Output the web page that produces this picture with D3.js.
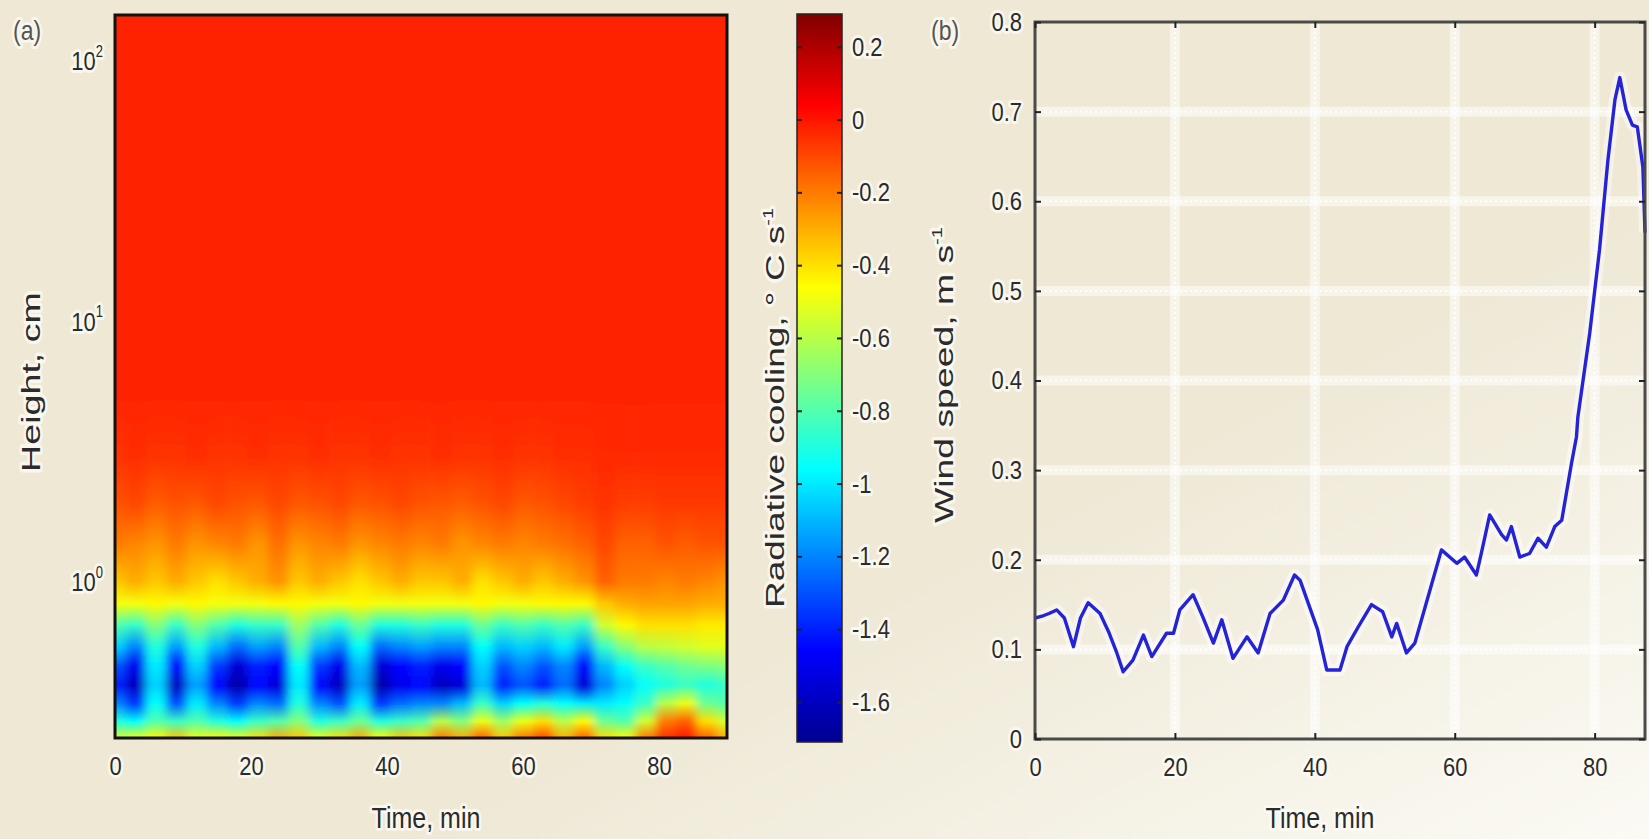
<!DOCTYPE html>
<html>
<head>
<meta charset="utf-8">
<script src="https://cdn.jsdelivr.net/npm/d3@7"></script>
<style>
  body { margin: 0; background: #eee8d5; }
  svg { display: block; font-family: "Liberation Sans", Arial, sans-serif; }
</style>
</head>
<body>
<svg id="fig" width="1649" height="839"></svg>
<script>
// ---- panel (a): radiative cooling (deg C / s) ----
var hmTimes = [0,3,6,9,12,15,18,21,24,27,30,33,36,39,42,45,48,51,54,57,60,63,66,69,72,75,78,81,84,87,90];
var hmHeights = [0.25,0.29,0.34,0.40,0.47,0.56,0.68,0.82,1.0,1.4,2.0,3.0,5.0];

var cool_h025 = [-0.55,-0.5,-0.45,-0.35,-0.5,-0.45,-0.5,-0.4,-0.3,-0.35,-0.5,-0.4,-0.3,-0.45,-0.35,-0.4,-0.2,-0.3,-0.15,-0.35,-0.2,-0.1,-0.3,-0.15,-0.4,-0.45,-0.2,-0.05,0.0,-0.15,-0.3];
var cool_h029 = [-0.9,-0.95,-0.8,-0.85,-0.8,-0.9,-0.95,-0.85,-0.8,-0.7,-0.9,-0.85,-0.75,-0.9,-0.85,-0.8,-0.6,-0.7,-0.5,-0.65,-0.5,-0.4,-0.6,-0.45,-0.75,-0.8,-0.55,-0.2,-0.15,-0.4,-0.55];
var cool_h034 = [-1.2,-1.35,-0.95,-1.3,-1.0,-1.2,-1.35,-1.2,-1.25,-0.9,-1.2,-1.3,-1.0,-1.35,-1.25,-1.2,-1.2,-1.1,-0.85,-1.05,-0.95,-0.9,-0.95,-1.0,-1.0,-0.95,-0.85,-0.6,-0.5,-0.75,-0.8];
var cool_h040 = [-1.4,-1.6,-1.05,-1.6,-1.15,-1.45,-1.65,-1.45,-1.55,-1.0,-1.45,-1.6,-1.15,-1.65,-1.5,-1.45,-1.6,-1.55,-1.1,-1.4,-1.3,-1.4,-1.25,-1.55,-1.2,-1.05,-0.95,-0.9,-0.85,-0.9,-0.85];
var cool_h047 = [-1.3,-1.5,-1.0,-1.45,-1.05,-1.35,-1.55,-1.4,-1.45,-0.95,-1.35,-1.5,-1.1,-1.55,-1.45,-1.4,-1.5,-1.45,-1.05,-1.3,-1.2,-1.3,-1.2,-1.45,-1.1,-0.95,-0.85,-0.8,-0.75,-0.72,-0.7];
var cool_h056 = [-1.05,-1.2,-0.9,-1.15,-0.9,-1.1,-1.25,-1.15,-1.2,-0.8,-1.1,-1.2,-0.95,-1.25,-1.2,-1.15,-1.2,-1.2,-0.95,-1.1,-1.05,-1.1,-1.0,-1.15,-0.85,-0.7,-0.6,-0.58,-0.55,-0.52,-0.52];
var cool_h068 = [-0.8,-0.85,-0.7,-0.85,-0.7,-0.8,-0.9,-0.85,-0.85,-0.65,-0.8,-0.9,-0.75,-0.9,-0.9,-0.85,-0.9,-0.9,-0.75,-0.85,-0.8,-0.85,-0.8,-0.85,-0.55,-0.45,-0.4,-0.4,-0.4,-0.42,-0.42];
var cool_h082 = [-0.48,-0.48,-0.45,-0.48,-0.45,-0.48,-0.48,-0.48,-0.45,-0.45,-0.48,-0.48,-0.45,-0.48,-0.48,-0.48,-0.48,-0.48,-0.45,-0.48,-0.48,-0.45,-0.45,-0.45,-0.35,-0.3,-0.28,-0.28,-0.28,-0.3,-0.3];
var cool_h100 = [-0.35,-0.3,-0.35,-0.3,-0.35,-0.4,-0.35,-0.3,-0.25,-0.35,-0.3,-0.35,-0.4,-0.35,-0.3,-0.35,-0.35,-0.3,-0.4,-0.35,-0.3,-0.35,-0.3,-0.25,-0.15,-0.2,-0.2,-0.22,-0.2,-0.22,-0.25];
var cool_h140 = [-0.2,-0.22,-0.25,-0.2,-0.25,-0.22,-0.2,-0.25,-0.18,-0.25,-0.22,-0.2,-0.25,-0.22,-0.2,-0.22,-0.2,-0.25,-0.22,-0.2,-0.22,-0.2,-0.18,-0.15,-0.1,-0.15,-0.15,-0.12,-0.14,-0.12,-0.12];
var cool_h200 = [-0.12,-0.1,-0.14,-0.12,-0.13,-0.1,-0.12,-0.13,-0.1,-0.13,-0.12,-0.1,-0.13,-0.12,-0.1,-0.12,-0.13,-0.14,-0.12,-0.1,-0.13,-0.12,-0.1,-0.08,-0.06,-0.08,-0.08,-0.07,-0.07,-0.07,-0.07];
var cool_h300 = [-0.06,-0.05,-0.06,-0.06,-0.05,-0.06,-0.06,-0.05,-0.06,-0.06,-0.05,-0.06,-0.06,-0.05,-0.06,-0.06,-0.05,-0.06,-0.06,-0.05,-0.06,-0.06,-0.05,-0.05,-0.04,-0.04,-0.04,-0.04,-0.04,-0.04,-0.04];
var cool_h500 = [-0.03,-0.03,-0.03,-0.03,-0.03,-0.03,-0.03,-0.03,-0.03,-0.03,-0.03,-0.03,-0.03,-0.03,-0.03,-0.03,-0.03,-0.03,-0.03,-0.03,-0.03,-0.03,-0.03,-0.03,-0.03,-0.03,-0.03,-0.03,-0.03,-0.03,-0.03];

var coolMin = -1.71, coolMax = 0.29;

// ---- panel (b): wind speed (m/s) ----
var windTime  = [0,1,2,3.1,4.2,5.5,6.5,7.6,9.3,10.5,11.7,12.6,14,15.5,16.7,18.8,19.8,20.7,22.6,24,25.5,26.7,28.3,30.3,31.9,33.6,35.5,37.1,37.9,40.4,41.7,43.6,44.6,46.2,48.1,49.7,51,51.7,53.1,54.3,56.2,58.1,60.3,61.4,63.1,63.8,65,66.7,67.4,68.1,69.3,70.7,71.9,73.1,74.3,75.3,76.7,77.4,77.6,79.3,80.7,81.9,82.9,83.6,84.5,85.4,86.1,86.9,87.2];
var windSpeed = [0.135,0.137,0.140,0.144,0.135,0.103,0.135,0.152,0.14,0.12,0.096,0.075,0.088,0.116,0.092,0.118,0.118,0.144,0.161,0.136,0.107,0.133,0.090,0.114,0.096,0.14,0.155,0.183,0.177,0.122,0.077,0.077,0.103,0.125,0.15,0.142,0.114,0.129,0.096,0.107,0.159,0.211,0.196,0.203,0.183,0.207,0.25,0.228,0.222,0.237,0.203,0.207,0.224,0.214,0.237,0.244,0.308,0.337,0.359,0.453,0.546,0.646,0.713,0.738,0.702,0.685,0.683,0.638,0.565];

var timeTicks = [0,20,40,60,80];
var heightTicks = [1,10,100];
var heightExp = ["0","1","2"];
var coolTicks = [0.2,0,-0.2,-0.4,-0.6,-0.8,-1,-1.2,-1.4,-1.6];
var windTicks = [0,0.1,0.2,0.3,0.4,0.5,0.6,0.7,0.8];

var svg = d3.select("#fig");
var defs = svg.append("defs");

var bg = defs.append("linearGradient").attr("id", "bg")
    .attr("x1", 0).attr("y1", 0).attr("x2", 1).attr("y2", 1);
bg.append("stop").attr("offset", 0.62).attr("stop-color", "#eee8d5");
bg.append("stop").attr("offset", 1).attr("stop-color", "#fbfaf4");
svg.append("rect").attr("width", 1649).attr("height", 839).attr("fill", "url(#bg)");

function halo(sel) {
    sel.attr("stroke", "#fdfcf6").attr("stroke-width", 5).attr("stroke-opacity", 0.75)
       .attr("stroke-linejoin", "round").attr("paint-order", "stroke");
}

// jet colormap
var jetPos = [0, 0.125, 0.375, 0.625, 0.875, 1];
var jet = d3.scaleLinear()
    .domain(jetPos.map(function(p){ return coolMin + p*(coolMax-coolMin); }))
    .range(["#000090","#0000ff","#00ffff","#ffff00","#ff0000","#800000"])
    .clamp(true);

// ================= panel (a) =================
var aL = 115, aR = 727, aT = 15, aB = 738;
var xA = d3.scaleLinear().domain([0, 90]).range([aL, aR]);
var yA = d3.scaleLog().domain([0.25, 150]).range([aB, aT]);

defs.append("clipPath").attr("id", "clipA").append("rect")
    .attr("x", aL).attr("y", aT).attr("width", aR-aL).attr("height", aB-aT);
var soft = defs.append("filter").attr("id", "soft").attr("filterUnits", "userSpaceOnUse")
    .attr("x", 40).attr("y", -60).attr("width", 760).attr("height", 880);
soft.append("feGaussianBlur").attr("stdDeviation", "5 1");

var hmRows = [cool_h025,cool_h029,cool_h034,cool_h040,cool_h047,cool_h056,cool_h068,cool_h082,cool_h100,cool_h140,cool_h200,cool_h300,cool_h500];
var nT = hmTimes.length;

// one vertical colour profile per time column, stops at the data heights
var yBot = yA(hmHeights[0]), yTop = yA(hmHeights[hmHeights.length-1]);
hmTimes.forEach(function(t, j) {
    var g = defs.append("linearGradient").attr("id", "col" + j)
        .attr("gradientUnits", "userSpaceOnUse")
        .attr("x1", 0).attr("x2", 0).attr("y1", yBot).attr("y2", yTop);
    hmHeights.forEach(function(h, i) {
        g.append("stop").attr("offset", (yBot - yA(h)) / (yBot - yTop))
            .attr("stop-color", jet(hmRows[i][j]));
    });
});
function colEdge(j, side) {
    if (side < 0) return j === 0 ? hmTimes[0] - 8 : (hmTimes[j-1] + hmTimes[j]) / 2;
    return j === nT-1 ? hmTimes[j] + 8 : (hmTimes[j] + hmTimes[j+1]) / 2;
}

var hm = svg.append("g").attr("clip-path", "url(#clipA)")
    .append("g").attr("filter", "url(#soft)");
hm.selectAll("rect").data(hmTimes).enter().append("rect")
    .attr("x", function(d, j){ return xA(colEdge(j, -1)); })
    .attr("width", function(d, j){ return xA(colEdge(j, 1)) - xA(colEdge(j, -1)) + 0.6; })
    .attr("y", aT - 20)
    .attr("height", aB - aT + 40)
    .attr("fill", function(d, j){ return "url(#col" + j + ")"; });

svg.append("rect").attr("x", aL).attr("y", aT).attr("width", aR-aL).attr("height", aB-aT)
    .attr("fill", "none").attr("stroke", "#151010").attr("stroke-width", 3);

var axA = svg.append("g").attr("transform", "translate(0," + aB + ")")
    .call(d3.axisBottom(xA).tickValues(timeTicks).tickSize(0).tickPadding(15).tickFormat(String));
axA.select(".domain").remove();

var yLab = svg.append("g");
heightTicks.forEach(function(v, k) {
    var t = yLab.append("text")
        .attr("transform", "translate(103," + yA(v) + ") scale(1,1.2)")
        .attr("y", 8).attr("text-anchor", "end");
    t.append("tspan").text("10");
    t.append("tspan").attr("class", "sup").attr("dy", -11).text(heightExp[k]);
});

// colorbar
var cL = 797, cR = 842, cT = 14, cB = 742;
var yC = d3.scaleLinear().domain([coolMin, coolMax]).range([cB, cT]);
var cg = defs.append("linearGradient").attr("id", "jetbar")
    .attr("x1", 0).attr("y1", 1).attr("x2", 0).attr("y2", 0);
jetPos.forEach(function(p) {
    cg.append("stop").attr("offset", p).attr("stop-color", jet(coolMin + p*(coolMax-coolMin)));
});
svg.append("rect").attr("x", cL).attr("y", cT).attr("width", cR-cL).attr("height", cB-cT)
    .attr("fill", "url(#jetbar)").attr("stroke", "#2a2020").attr("stroke-width", 1.5);
var axC = svg.append("g").attr("transform", "translate(" + cR + ",0)")
    .call(d3.axisRight(yC).tickValues(coolTicks).tickSize(-5).tickPadding(10).tickFormat(String));
var axC2 = svg.append("g").attr("transform", "translate(" + cL + ",0)")
    .call(d3.axisLeft(yC).tickValues(coolTicks).tickSize(-5).tickFormat(""));

// ================= panel (b) =================
var bL = 1035, bR = 1645, bT = 22, bB = 739;
var xB = d3.scaleLinear().domain([0, 87.2]).range([bL, bR]);
var yB = d3.scaleLinear().domain([0, 0.8]).range([bB, bT]);

defs.append("clipPath").attr("id", "clipB").append("rect")
    .attr("x", bL).attr("y", bT - 5).attr("width", bR-bL + 3).attr("height", bB-bT + 5);

var grid = svg.append("g");
var gx = timeTicks.filter(function(v){ return v > 0; });
var gy = windTicks.filter(function(v){ return v > 0 && v < 0.8; });
[[10, 0.5, null], [2, 0.95, "2,3"]].forEach(function(st) {
    grid.selectAll(null).data(gx).enter().append("line")
        .attr("x1", xB).attr("x2", xB).attr("y1", bT).attr("y2", bB)
        .attr("stroke", "#ffffff").attr("stroke-width", st[0]).attr("stroke-opacity", st[1])
        .attr("stroke-dasharray", st[2]);
    grid.selectAll(null).data(gy).enter().append("line")
        .attr("x1", bL).attr("x2", bR).attr("y1", yB).attr("y2", yB)
        .attr("stroke", "#ffffff").attr("stroke-width", st[0]).attr("stroke-opacity", st[1])
        .attr("stroke-dasharray", st[2]);
});

var windLine = d3.line()
    .x(function(d){ return xB(d[0]); })
    .y(function(d){ return yB(d[1]); });
var windPts = d3.zip(windTime, windSpeed);
var lg = svg.append("g").attr("clip-path", "url(#clipB)");
lg.append("path").datum(windPts).attr("d", windLine)
    .attr("fill", "none").attr("stroke", "#ffffff").attr("stroke-width", 12)
    .attr("stroke-opacity", 0.45).attr("stroke-linejoin", "round");
lg.append("path").datum(windPts).attr("d", windLine)
    .attr("fill", "none").attr("stroke", "#2424d6").attr("stroke-width", 3.4)
    .attr("stroke-linejoin", "round");

svg.append("rect").attr("x", bL).attr("y", bT).attr("width", bR-bL).attr("height", bB-bT)
    .attr("fill", "none").attr("stroke", "#4a4a4a").attr("stroke-width", 3);

var axBx = svg.append("g").attr("transform", "translate(0," + bB + ")")
    .call(d3.axisBottom(xB).tickValues(timeTicks).tickSize(-6).tickPadding(15).tickFormat(String));
var axBy = svg.append("g").attr("transform", "translate(" + bL + ",0)")
    .call(d3.axisLeft(yB).tickValues(windTicks).tickSize(-6).tickPadding(13).tickFormat(String));
var axBt = svg.append("g").attr("transform", "translate(0," + bT + ")")
    .call(d3.axisTop(xB).tickValues(timeTicks).tickSize(-6).tickFormat(""));
var axBr = svg.append("g").attr("transform", "translate(" + bR + ",0)")
    .call(d3.axisRight(yB).tickValues(windTicks).tickSize(-6).tickFormat(""));
[axBx, axBy, axBt, axBr, axC, axC2].forEach(function(a) {
    a.select(".domain").remove();
    a.selectAll(".tick line").attr("stroke", "#222").attr("stroke-width", 2);
});

// tick label styling
svg.selectAll("text").attr("font-size", 22).attr("fill", "#2b2b2b")
    .attr("font-family", "'Liberation Sans', Arial, sans-serif");
svg.selectAll(".tick text").attr("transform", "scale(1,1.2)");
svg.selectAll("text").call(halo);
yLab.selectAll("tspan.sup").attr("font-size", 13);

// ================= labels =================
function hLabel(x, y, txt, size, anchor, fill) {
    var t = svg.append("text").attr("transform", "translate(" + x + "," + y + ") scale(1,1.2)")
        .attr("text-anchor", anchor).attr("font-size", size).attr("fill", fill).text(txt);
    halo(t);
    return t;
}
hLabel(426, 828, "Time, min", 25, "middle", "#2b2b2b");
hLabel(1320, 828, "Time, min", 25, "middle", "#2b2b2b");
hLabel(13, 40, "(a)", 23, "start", "#555");
hLabel(931, 40, "(b)", 23, "start", "#555");

function vLabel(x, y, len, main, sup) {
    var t = svg.append("text").attr("transform", "translate(" + x + "," + y + ") rotate(-90)")
        .attr("text-anchor", "middle").attr("font-size", 26).attr("fill", "#2b2b2b")
        .attr("textLength", len).attr("lengthAdjust", "spacingAndGlyphs");
    t.append("tspan").text(main);
    if (sup) t.append("tspan").attr("dy", -11).attr("font-size", 14).text(sup);
    halo(t);
}
vLabel(40, 382, 180, "Height, cm", null);
vLabel(784, 408, 400, "Radiative cooling, \u00b0 C s", "-1");
vLabel(953, 375, 296, "Wind speed, m s", "-1");
</script>
</body>
</html>
